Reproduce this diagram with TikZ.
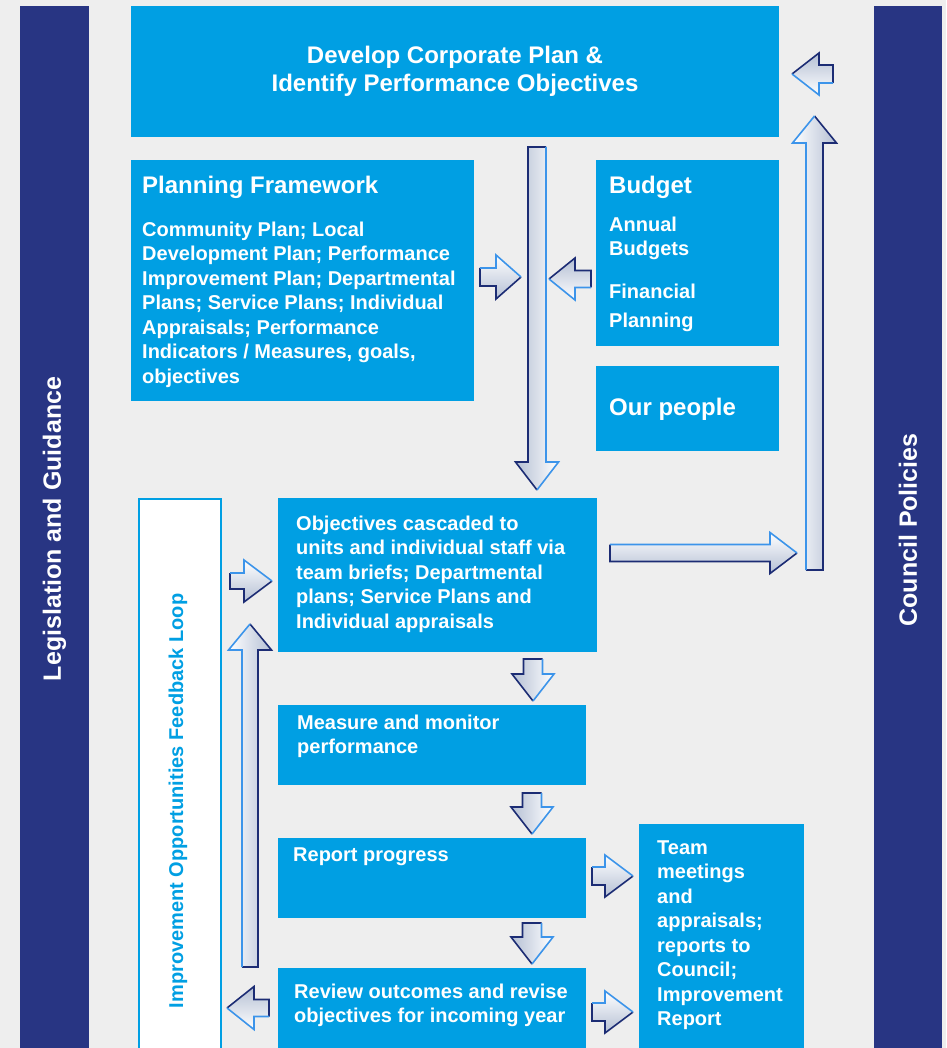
\documentclass[tikz,border=0pt]{standalone}
\usepackage{fontspec}
\setmainfont{Liberation Sans}
\usetikzlibrary{calc}
\definecolor{bgc}{HTML}{EEEEEE}
\definecolor{navybar}{HTML}{283583}
\definecolor{cyanbox}{HTML}{009FE3}
\definecolor{arrfill}{HTML}{B4BFD4}
\definecolor{arrdark}{HTML}{1C2C74}
\definecolor{arrlight}{HTML}{3C94EA}
\newcommand\fsz[2]{\fontsize{#1}{#2}\selectfont\bfseries}
\newcommand\barrow[5]{%
 \path let \p1=(#1), \p2=(#2) in \pgfextra{%
   \pgfmathsetmacro\arlen{veclen(\x2-\x1,\y2-\y1)}%
   \pgfmathsetmacro\arang{atan2(\y2-\y1,\x2-\x1)}%
   \pgfmathsetmacro\arb{\arlen-#5}%
   \xdef\Alen{\arlen}\xdef\Aang{\arang}\xdef\Ab{\arb}};
 \begin{scope}[shift={(#1)}, rotate=\Aang]
  \shade[top color=white, bottom color=arrfill, shading angle=\Aang] (0pt,-#3pt) -- (\Ab pt,-#3pt) -- (\Ab pt,-#4pt) -- (\Alen pt,0pt) -- (\Ab pt,#4pt) -- (\Ab pt,#3pt) -- (0pt,#3pt) -- cycle;
  \draw[arrdark, arrline] (\Alen pt,0pt) -- (\Ab pt,-#4pt) -- (\Ab pt,-#3pt) -- (0pt,-#3pt) -- (0pt,#3pt);
  \draw[arrlight, arrline] (0pt,#3pt) -- (\Ab pt,#3pt) -- (\Ab pt,#4pt) -- (\Alen pt,0pt);
 \end{scope}}
\tikzset{
 box/.style={fill=cyanbox, draw=none, inner sep=0pt, outer sep=0pt, anchor=north west},
 bar/.style={fill=navybar, draw=none, inner sep=0pt, outer sep=0pt, anchor=north west},
 txt/.style={text=white, inner sep=0pt, align=left, anchor=base west},
 arrline/.style={line width=1.6pt, line join=miter, line cap=butt},
}
\begin{document}
\begin{tikzpicture}[x=1pt, y=-1pt]
\useasboundingbox (0,0) rectangle (946,1048);
\fill[bgc] (0,0) rectangle (946,1048);

% side bars
\node[bar, minimum width=69pt, minimum height=1042pt] (leg) at (20,6) {};
\node[bar, minimum width=68pt, minimum height=1042pt] (cp) at (874,6) {};
\node[rotate=90, text=white, font=\fsz{25}{30}] (legt) at (leg.center |- 0,529) {Legislation and Guidance};
\node[rotate=90, text=white, font=\fsz{25}{30}] (cpt) at (cp.center |- 0,530) {Council Policies};

% boxes
\node[box, minimum width=648pt, minimum height=131pt] (top) at (131,6) {};
\node[box, minimum width=343pt, minimum height=241pt] (pf) at (131,160) {};
\node[box, minimum width=183pt, minimum height=186pt] (bud) at (596,160) {};
\node[box, minimum width=183pt, minimum height=85pt] (ppl) at (596,366) {};
\node[box, minimum width=319pt, minimum height=154pt] (obj) at (278,498) {};
\node[box, minimum width=308pt, minimum height=80pt] (mea) at (278,705) {};
\node[box, minimum width=308pt, minimum height=80pt] (rep) at (278,838) {};
\node[box, minimum width=308pt, minimum height=80pt] (rev) at (278,968) {};
\node[box, minimum width=165pt, minimum height=224pt] (team) at (639,824) {};
\node[fill=white, draw=cyanbox, line width=2pt, inner sep=0pt, outer sep=0pt, anchor=north west, minimum width=82pt, minimum height=570pt] (fb) at (139,499) {};
\node[rotate=90, text=cyanbox, font=\fsz{20}{24}] (fbt) at (178,801) {Improvement Opportunities Feedback Loop};

% texts (multi-line nodes are anchored at the baseline of their last line)
\node[text=white, font=\fsz{24}{28}, align=center, inner sep=0pt, anchor=base] (topt) at (455,92) {Develop Corporate Plan \&\\Identify Performance Objectives};
\node[txt, font=\fsz{24}{28}] (pft) at (142,193.5) {Planning Framework};
\node[txt, font=\fsz{20}{24.5}] (pfb) at (142,383) {Community Plan; Local\\Development Plan; Performance\\Improvement Plan; Departmental\\Plans; Service Plans; Individual\\Appraisals; Performance\\Indicators / Measures, goals,\\objectives};
\node[txt, font=\fsz{24}{28}] (budt) at (609,193.5) {Budget};
\node[txt, font=\fsz{20}{24.5}] (budb) at (609,255.5) {Annual\\Budgets};
\node[txt, font=\fsz{20}{29}] (budc) at (609,327) {Financial\\Planning};
\node[txt, font=\fsz{24}{28}] (pplt) at (609,415.5) {Our people};
\node[txt, font=\fsz{20}{24.5}] (objt) at (296,628) {Objectives cascaded to\\units and individual staff via\\team briefs; Departmental\\plans; Service Plans and\\Individual appraisals};
\node[txt, font=\fsz{20}{24.5}] (meat) at (297,753.5) {Measure and monitor\\performance};
\node[txt, font=\fsz{20}{24.5}] (rept) at (293,861) {Report progress};
\node[txt, font=\fsz{20}{24}] (revt) at (294,1022) {Review outcomes and revise\\objectives for incoming year};
\node[txt, font=\fsz{20}{24.5}] (teamt) at (657,1025.5) {Team\\meetings\\and\\appraisals;\\reports to\\Council;\\Improvement\\Report};

% arrow end points
\coordinate (a1s) at (537,147);   \coordinate (a1e) at (537,490);
\coordinate (a2s) at (480,277);   \coordinate (a2e) at (521,277);
\coordinate (a3s) at (591,279);   \coordinate (a3e) at (549,279);
\coordinate (a4s) at (833,74);    \coordinate (a4e) at (792,74);
\coordinate (a5s) at (814.5,570); \coordinate (a5e) at (814.5,116);
\coordinate (a6s) at (610,553);   \coordinate (a6e) at (797,553);
\coordinate (a7s) at (230,581);   \coordinate (a7e) at (272,581);
\coordinate (a8s) at (250,967);   \coordinate (a8e) at (250,624);
\coordinate (a9s) at (269,1008);  \coordinate (a9e) at (227,1008);
\coordinate (b1s) at (533,659);   \coordinate (b1e) at (533,701);
\coordinate (b2s) at (532,793);   \coordinate (b2e) at (532,834);
\coordinate (b3s) at (532,923);   \coordinate (b3e) at (532,964);
\coordinate (c1s) at (592,876);   \coordinate (c1e) at (633,876);
\coordinate (c2s) at (592,1012);  \coordinate (c2e) at (633,1012);

\barrow{a1s}{a1e}{9}{21.5}{28}
\barrow{a2s}{a2e}{9}{22}{25}
\barrow{a3s}{a3e}{8.5}{21}{26}
\barrow{a4s}{a4e}{9}{21}{27}
\barrow{a5s}{a5e}{8.5}{22}{27}
\barrow{a6s}{a6e}{8.5}{20.5}{27}
\barrow{a7s}{a7e}{8}{21}{28}
\barrow{a8s}{a8e}{8}{21.5}{26}
\barrow{a9s}{a9e}{8.5}{21.5}{27}
\barrow{b1s}{b1e}{9.5}{21}{27}
\barrow{b2s}{b2e}{9.5}{21}{27}
\barrow{b3s}{b3e}{9.5}{21}{27}
\barrow{c1s}{c1e}{9}{21}{28}
\barrow{c2s}{c2e}{9}{21}{28}
\end{tikzpicture}
\end{document}
